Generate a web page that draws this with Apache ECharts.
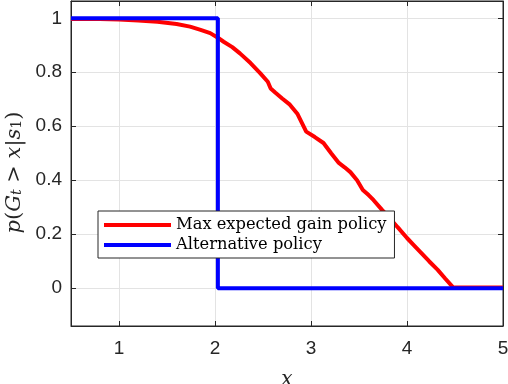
<!DOCTYPE html>
<html>
<head>
<meta charset="utf-8">
<script src="https://cdn.jsdelivr.net/npm/echarts@6/dist/echarts.min.js"></script>
<style>
  html, body { margin: 0; padding: 0; background: #fff; }
  #chart { width: 508px; height: 384px; }
</style>
</head>
<body>
<div id="chart"></div>
<script>
// tick positions
const xTicks = [1, 2, 3, 4, 5];
const yTicks = [0, 0.2, 0.4, 0.6, 0.8, 1];

// Max expected gain policy (red)
const gainX = [0.5, 0.8, 1.0, 1.2, 1.4, 1.6, 1.74, 1.85, 1.95, 2.03, 2.09, 2.18, 2.26, 2.37, 2.47, 2.55, 2.58, 2.63, 2.7, 2.78, 2.86, 2.95, 3.04, 3.13, 3.21, 3.29, 3.35, 3.41, 3.48, 3.54, 3.6, 3.65, 3.74, 3.82, 3.9, 4.0, 4.07, 4.14, 4.23, 4.32, 4.4, 4.48, 5.0];
const gainY = [0.997, 0.997, 0.995, 0.992, 0.987, 0.979, 0.969, 0.957, 0.945, 0.928, 0.913, 0.893, 0.87, 0.834, 0.797, 0.765, 0.74, 0.724, 0.703, 0.68, 0.645, 0.58, 0.56, 0.538, 0.5, 0.464, 0.448, 0.43, 0.4, 0.364, 0.345, 0.327, 0.29, 0.26, 0.227, 0.186, 0.16, 0.134, 0.1, 0.068, 0.035, 0.003, 0.003];

// Alternative policy (blue): a single step
const altX = [0.5, 2.03, 2.03, 5.0];
const altY = [1, 1, 0, 0];

const ink = '#262626';
const sans = "'Liberation Sans', Arial, Helvetica, sans-serif";
const serif = "'DejaVu Serif', serif";
const chart = echarts.init(document.getElementById('chart'));

const zip = (xs, ys) => xs.map((x, i) => [x, ys[i]]);

const baseX = {
  type: 'value', min: 0.5, max: 5,
  axisLine: { show: true, onZero: false, lineStyle: { color: ink, width: 1 } },
  axisTick: { show: true, inside: true, length: 5, customValues: xTicks, lineStyle: { color: ink } },
  splitLine: { show: false }
};
const baseY = {
  type: 'value', min: -0.14, max: 1.064,
  axisLine: { show: true, onZero: false, lineStyle: { color: ink, width: 1 } },
  axisTick: { show: true, inside: true, length: 5, customValues: yTicks, lineStyle: { color: ink } },
  splitLine: { show: false }
};

chart.setOption({
  animation: false,
  backgroundColor: '#fff',
  grid: {
    left: 71, right: 5, top: 1, bottom: 58,
    containLabel: false, outerBoundsMode: 'none',
    show: true, borderColor: ink, borderWidth: 1
  },
  xAxis: [
    Object.assign({}, baseX, {
      position: 'bottom',
      splitLine: { show: true, lineStyle: { color: '#e3e3e3', width: 1 } },
      axisLabel: { customValues: xTicks, color: ink, fontSize: 19, fontFamily: sans, margin: 13 },
      name: 'x', nameLocation: 'middle', nameGap: 44,
      nameTextStyle: { fontFamily: serif, fontStyle: 'italic', fontSize: 20, color: ink }
    }),
    Object.assign({}, baseX, { position: 'top', axisLabel: { show: false } })
  ],
  yAxis: [
    Object.assign({}, baseY, {
      position: 'left',
      splitLine: { show: true, lineStyle: { color: '#e3e3e3', width: 1 } },
      axisLabel: {
        customValues: yTicks, color: ink, fontSize: 19, fontFamily: sans, margin: 9,
        formatter: v => String(Math.round(v * 10) / 10)
      },
      name: '{i|p}{n|(}{i|G}{s|t}{n| > }{i|x}{n||}{i|s}{u|1}{n|)}',
      nameLocation: 'middle', nameGap: 46, nameRotate: 90,
      nameTextStyle: {
        padding: [0, 18, 0, 0],
        rich: {
          i: { fontFamily: serif, fontStyle: 'italic', fontSize: 21, color: ink },
          n: { fontFamily: serif, fontSize: 21, color: ink },
          s: { fontFamily: serif, fontStyle: 'italic', fontSize: 14, color: ink, verticalAlign: 'bottom', padding: [6, 0, 0, 0] },
          u: { fontFamily: serif, fontSize: 14, color: ink, verticalAlign: 'bottom', padding: [6, 0, 0, 0] }
        }
      }
    }),
    Object.assign({}, baseY, { position: 'right', axisLabel: { show: false } })
  ],
  legend: {
    orient: 'vertical',
    left: 98, top: 211,
    backgroundColor: '#fff',
    borderColor: ink, borderWidth: 1, borderRadius: 0,
    padding: [6, 8, 5, 6],
    itemGap: 4,
    itemWidth: 67, itemHeight: 4,
    icon: 'rect',
    textStyle: { fontFamily: serif, fontSize: 16.3, color: '#000' },
    data: ['Max expected gain policy', 'Alternative policy']
  },
  series: [
    {
      name: 'Max expected gain policy', type: 'line',
      data: zip(gainX, gainY), showSymbol: false, symbol: 'none',
      lineStyle: { color: '#ff0000', width: 4 }, itemStyle: { color: '#ff0000' }
    },
    {
      name: 'Alternative policy', type: 'line',
      data: zip(altX, altY), showSymbol: false, symbol: 'none',
      lineStyle: { color: '#0000ff', width: 4 }, itemStyle: { color: '#0000ff' }
    }
  ]
});
</script>
</body>
</html>
